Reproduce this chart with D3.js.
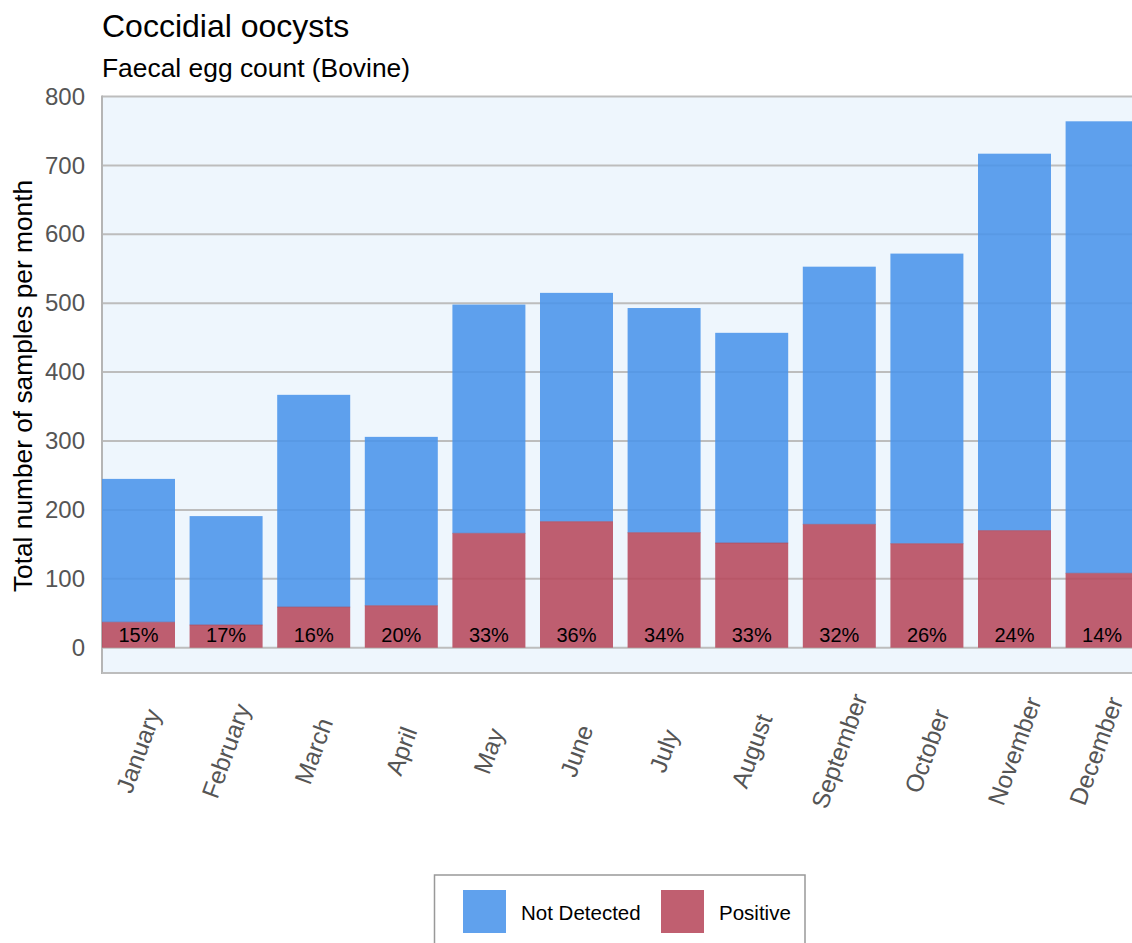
<!DOCTYPE html>
<html>
<head>
<meta charset="utf-8">
<script src="https://cdn.jsdelivr.net/npm/d3@7"></script>
<style>
  html, body { margin: 0; padding: 0; background: #fff; }
  svg { display: block; font-family: "Liberation Sans", Arial, Helvetica, sans-serif; }
</style>
</head>
<body>
<svg id="chart" width="1132" height="943"></svg>
<script>
const months = ["January","February","March","April","May","June","July","August","September","October","November","December"];
const positive    = [37, 33, 59, 61, 166, 183, 167, 152, 179, 151, 170, 108];
const notDetected = [208, 158, 308, 245, 332, 332, 326, 305, 374, 421, 547, 656];
const yTicks = [0, 100, 200, 300, 400, 500, 600, 700, 800];
const seriesNames = ["Not Detected", "Positive"];
const seriesColors = ["#4a94ea", "#b7495c"];

const svg = d3.select("#chart");
const left = 102, plotTop = 96.5, zeroY = 647.7, plotBottom = 673;

const x = d3.scaleBand().domain(months).range([left, 1138.6]).paddingInner(0.1667).paddingOuter(0);
const y = d3.scaleLinear().domain([0, 800]).range([zeroY, plotTop]);

// Titles
svg.append("text").attr("x", 102).attr("y", 37).attr("font-size", 32).attr("fill", "#000").text("Coccidial oocysts");
svg.append("text").attr("x", 102).attr("y", 77).attr("font-size", 26.4).attr("fill", "#000").text("Faecal egg count (Bovine)");

// plot background
svg.append("rect").attr("x", left).attr("y", plotTop).attr("width", 1132 - left).attr("height", plotBottom - plotTop).attr("fill", "#eef6fd");

// gridlines
svg.append("g").selectAll("line").data(yTicks).join("line")
  .attr("x1", left).attr("x2", 1132)
  .attr("y1", d => y(d)).attr("y2", d => y(d))
  .attr("stroke", "#bdbdbd").attr("stroke-width", 2);

// borders
svg.append("line").attr("x1", left).attr("x2", left).attr("y1", plotTop - 1).attr("y2", plotBottom + 1).attr("stroke", "#b5b5b5").attr("stroke-width", 2);
svg.append("line").attr("x1", left).attr("x2", 1132).attr("y1", plotBottom).attr("y2", plotBottom).attr("stroke", "#bdbdbd").attr("stroke-width", 2);

// y axis labels
const yAxis = d3.axisLeft(y).tickValues(yTicks).tickSize(0).tickPadding(17);
const yg = svg.append("g").attr("transform", `translate(${left},0)`).call(yAxis);
yg.select(".domain").remove();
yg.selectAll("text").attr("font-size", 24).attr("fill", "#555").attr("font-family", "Liberation Sans, Arial, sans-serif");

// y title
svg.append("text").attr("transform", "translate(32,386) rotate(-90)").attr("text-anchor", "middle")
  .attr("font-size", 26.3).attr("fill", "#000").text("Total number of samples per month");

// stacked data
const rows = months.map((m, i) => ({month: m, "Positive": positive[i], "Not Detected": notDetected[i]}));
const stack = d3.stack().keys(["Positive", "Not Detected"]);
const stacked = stack(rows);
const colorOf = d3.scaleOrdinal().domain(seriesNames).range(seriesColors);

svg.append("g").selectAll("g").data(stacked).join("g")
  .attr("fill", d => colorOf(d.key)).attr("fill-opacity", 0.88)
  .selectAll("rect").data(d => d).join("rect")
  .attr("x", d => x(d.data.month)).attr("width", x.bandwidth())
  .attr("y", d => y(d[1])).attr("height", d => y(d[0]) - y(d[1]));

// thin top edge of positive bars
svg.append("g").selectAll("line").data(rows).join("line")
  .attr("x1", d => x(d.month)).attr("x2", d => x(d.month) + x.bandwidth())
  .attr("y1", d => y(d.Positive)).attr("y2", d => y(d.Positive))
  .attr("stroke", "#a8475a").attr("stroke-width", 1).attr("stroke-opacity", 0.6);

// percent labels
svg.append("g").selectAll("text").data(rows).join("text")
  .attr("x", d => x(d.month) + x.bandwidth() / 2).attr("y", 642)
  .attr("text-anchor", "middle").attr("font-size", 20).attr("fill", "#000")
  .text(d => Math.round(100 * d.Positive / (d.Positive + d["Not Detected"])) + "%");

// x labels
svg.append("g").selectAll("text").data(months).join("text")
  .attr("transform", (d, i) => `translate(${x(d) + x.bandwidth() / 2 - (i === 11 ? 6 : 0)},751) rotate(-70)`)
  .attr("text-anchor", "middle").attr("dominant-baseline", "central")
  .attr("font-size", 24.5).attr("fill", "#555").text(d => d);

// legend
const lg = svg.append("g");
lg.append("rect").attr("x", 434.5).attr("y", 875).attr("width", 370.5).attr("height", 80)
  .attr("fill", "#fff").attr("stroke", "#999").attr("stroke-width", 1.5);
const legendX = [463, 661];
seriesNames.forEach((name, i) => {
  lg.append("rect").attr("x", legendX[i]).attr("y", 890).attr("width", 43).attr("height", 43)
    .attr("fill", seriesColors[i]).attr("fill-opacity", 0.88);
  lg.append("text").attr("x", legendX[i] + 58).attr("y", 920).attr("font-size", 20.5).attr("fill", "#000").text(name);
});
</script>
</body>
</html>
